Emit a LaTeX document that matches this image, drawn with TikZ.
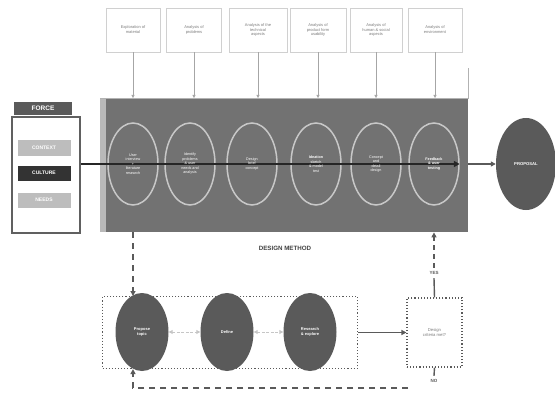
\documentclass[tikz,border=0pt]{standalone}
\usepackage{fontspec}
\setmainfont{Liberation Sans}
\usetikzlibrary{arrows.meta,shapes.geometric}
\definecolor{band}{HTML}{727272}
\definecolor{dk}{HTML}{5A5A5A}
\definecolor{ln}{HTML}{C8C8C8}
\definecolor{tb}{HTML}{D0D0D0}
\definecolor{tt}{HTML}{7A7A7A}
\definecolor{lt}{HTML}{BDBDBD}
\begin{document}
\begin{tikzpicture}[x=1pt,y=-1pt,
  topbox/.style={draw=tb, line width=0.6pt, minimum height=44, inner sep=1pt, align=center, text=tt, font=\fontsize{4}{4.9}\selectfont},
  feed/.style={draw=gray!70, line width=0.5pt, -{Triangle[length=3pt,width=3pt]}},
  stage/.style={ellipse, draw=ln, line width=1.5pt, minimum width=50, minimum height=82, inner sep=0pt},
  stagetext/.style={align=center, text=white, inner sep=0pt, font=\fontsize{3.7}{4.5}\selectfont},
  blob/.style={ellipse, fill=dk, minimum width=53, minimum height=78, inner sep=0pt, align=center, text=white, font=\fontsize{4}{4.9}\selectfont\bfseries},
  tag/.style={minimum width=53, minimum height=15, inner sep=0pt, text=white, font=\fontsize{5}{6}\selectfont\bfseries},
  lbl/.style={text=dk, font=\fontsize{4.5}{5.5}\selectfont\bfseries},
  flow/.style={draw=dk, line width=1.6pt, -{Triangle[length=5pt,width=5pt]}},
  back/.style={draw=dk, line width=1.8pt, dash pattern=on 6pt off 5pt},
  link/.style={draw=gray!45, line width=1pt, dash pattern=on 3pt off 1.5pt, {Triangle[length=4pt,width=4pt]}-{Triangle[length=4pt,width=4pt]}}
]
\useasboundingbox (0,0) rectangle (555,396);

% top analysis boxes
\node[topbox, minimum width=54] (t1) at (133,30) {Exploration of\\material};
\node[topbox, minimum width=55] (t2) at (194,30) {Analysis of\\problems};
\node[topbox, minimum width=58] (t3) at (258,30) {Analysis of the\\technical\\aspects};
\node[topbox, minimum width=56] (t4) at (318,30) {Analysis of\\product form\\usability};
\node[topbox, minimum width=52] (t5) at (376,30) {Analysis of\\human \& social\\aspects};
\node[topbox, minimum width=54] (t6) at (435,30) {Analysis of\\environment};

% design method band
\node[fill=band, minimum width=368, minimum height=134, inner sep=0pt, anchor=north west] (dm) at (100,98) {};
\fill[gray!55] (dm.north west) rectangle ++(6,134);
\draw[gray!60, line width=0.8pt] (dm.north west) -- (dm.north east) -- ++(0,-30);

\foreach \i in {1,...,6} \draw[feed] (t\i.south) -- (t\i.south |- dm.north);

% stages
\node[stage] (e1) at (133,164) {};
\node[stage] (e2) at (190,164) {};
\node[stage] (e3) at (252,164) {};
\node[stage] (e4) at (316,164) {};
\node[stage] (e5) at (376,164) {};
\node[stage] (e6) at (434,164) {};

% force box
\node[draw=gray!75!black, line width=2.4pt, minimum width=68, minimum height=116, inner sep=0pt, anchor=north west] (force) at (11,116) {};
\node[fill=dk, minimum width=58, minimum height=13, inner sep=0pt, text=white, font=\fontsize{6.5}{7}\selectfont\bfseries] (fh) at (43,108.5) {FORCE};
\node[tag, fill=lt] (ctx) at (44,148) {CONTEXT};
\node[tag, fill=black!80] (cul) at (44,173) {CULTURE};
\node[tag, fill=lt] (nds) at (44,200) {NEEDS};

% main axis
\draw[black!85, line width=2.6pt, -{Triangle[length=6pt,width=6pt]}] (force.east |- e1) -- (e6.east);
\node[stagetext] at (e1) {User\\interview\\+\\literature\\research};
\node[stagetext] at (e2) {Identify\\problems\\\& user\\needs and\\analysis};
\node[stagetext] at (e3) {Design\\brief\\concept};
\node[stagetext] at (e4) {\textbf{Ideation}\\sketch\\\& model\\test};
\node[stagetext] at (e5) {Concept\\and\\detail\\design};
\node[stagetext] at (e6) {\textbf{Feedback}\\\textbf{\& user}\\\textbf{testing}};

% proposal
\node[ellipse, fill=dk, minimum width=60, minimum height=92, inner sep=0pt, text=white, font=\fontsize{4.2}{5}\selectfont\bfseries] (prop) at (526,164) {PROPOSAL};
\draw[flow] (dm.east |- e6) -- (prop.west);

\node[text=black!75, font=\fontsize{6.2}{7}\selectfont\bfseries] (dmt) at (285,248) {DESIGN METHOD};

% iteration loop
\node[draw=dk, dotted, line width=1.1pt, minimum width=255, minimum height=72, inner sep=0pt, anchor=north west] (bbox) at (102,296) {};
\node[blob] (b1) at (142,332) {Propose\\topic};
\node[blob] (b2) at (227,332) {Define};
\node[blob] (b3) at (310,332) {Research\\\& explore};
\draw[link] (b1.east) -- (b2.west);
\draw[link] (b2.east) -- (b3.west);
\draw[back, -{Triangle[length=5pt,width=5pt]}] (e1.south |- dm.south) -- (e1.south |- bbox.north);

\node[draw=dk, dotted, line width=1.1pt, minimum width=55, minimum height=69, inner sep=0pt, align=center, text=tt, font=\fontsize{4.2}{5.2}\selectfont] (dec) at (434.5,332.5) {Design\\criteria met?};
\draw[flow] (bbox.east |- dec) -- (dec.west);

\node[lbl] (yes) at (434,273) {YES};
\draw[dk, line width=1.4pt] (dec.north) -- (yes.south);
\draw[back, dash pattern=on 5pt off 4pt, -{Triangle[length=5pt,width=5pt]}] (yes.north) -- (yes.north |- dm.south);

\node[lbl] (no) at (434,381) {NO};
\draw[dk, line width=1.4pt] (dec.south) -- (no.north);
\coordinate (nr) at (408,388);
\draw[back, -{Triangle[length=5pt,width=5pt]}] (nr) -- (e1.south |- nr) -- (e1.south |- bbox.south);
\end{tikzpicture}
\end{document}
